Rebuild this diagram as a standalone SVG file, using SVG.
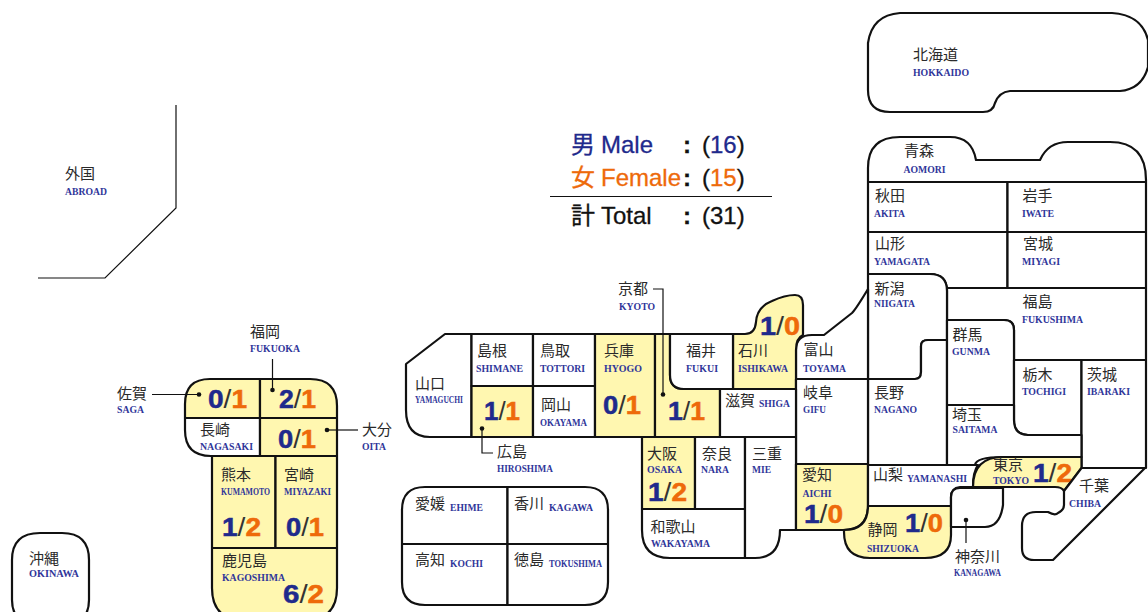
<svg xmlns="http://www.w3.org/2000/svg" width="1148" height="612" viewBox="0 0 1148 612">
<style>
.r{fill:#fff;stroke:#111;stroke-width:2.2;stroke-linejoin:round}
.y{fill:#fff7b0;stroke:#111;stroke-width:2.2;stroke-linejoin:round}
.j{font-family:"Noto Sans CJK JP","Noto Sans",sans-serif;font-size:15px;fill:#2a2a2a;transform:translateY(-0.7px)}
.e{font-family:"Liberation Serif",serif;font-size:11px;font-weight:bold;fill:#30369a}
.c{font-family:"Liberation Sans",sans-serif;font-size:25px;font-weight:bold}
.m{fill:#1f2a8c}.f{fill:#ee6a0a}.s{font-weight:normal;fill:#333}
.c .m{stroke:#1f2a8c;stroke-width:.5}.c .f{stroke:#ee6a0a;stroke-width:.5}
.t{font-family:"Liberation Sans","Noto Sans CJK JP",sans-serif;font-size:24px;fill:#111;stroke:#111;stroke-width:.3}
.t .m{stroke:#1f2a8c}.t .f{stroke:#ee6a0a}
.k{font-weight:bold}
.l{fill:none;stroke:#111;stroke-width:1.2}
.d{fill:#111}
</style>
<g id="abroad"><path class="l" d="M176,105V208L105,278H38"/><text class="j" x="65" y="180">外国</text><text class="e" x="65" y="195" textLength="42" lengthAdjust="spacingAndGlyphs">ABROAD</text></g>
<g id="hokkaido"><path class="r" d="M900,13H1112Q1142,15 1148,40V67Q1142,89 1120,91H1010Q999,92 995,103Q993,112 983,112H890Q868,112 868,90V43Q872,15 900,13Z"/><text class="j" x="913" y="61">北海道</text><text class="e" x="913" y="76" textLength="56" lengthAdjust="spacingAndGlyphs">HOKKAIDO</text></g>
<g id="aomori"><path class="r" d="M868,182V168Q868,137 900,137H950Q972,137 976,160H1040Q1048,142 1068,142H1110Q1146,142 1146,180V182Z"/><text class="j" x="904" y="157">青森</text><text class="e" x="903.5" y="173" textLength="42" lengthAdjust="spacingAndGlyphs">AOMORI</text></g>
<g id="akita"><rect class="r" x="868" y="182" width="139.500" height="50"/><text class="j" x="875" y="202">秋田</text><text class="e" x="874" y="217" textLength="31" lengthAdjust="spacingAndGlyphs">AKITA</text></g>
<g id="iwate"><rect class="r" x="1007.500" y="182" width="138.500" height="50"/><text class="j" x="1022.500" y="202">岩手</text><text class="e" x="1022" y="217" textLength="32" lengthAdjust="spacingAndGlyphs">IWATE</text></g>
<g id="yamagata"><path class="r" d="M868,232H1007.500V288H947V291Q947,274 930,274H868Z"/><text class="j" x="875" y="250">山形</text><text class="e" x="874" y="265" textLength="56" lengthAdjust="spacingAndGlyphs">YAMAGATA</text></g>
<g id="miyagi"><rect class="r" x="1007.500" y="232" width="138.500" height="56"/><text class="j" x="1023" y="250">宮城</text><text class="e" x="1022" y="265" textLength="38" lengthAdjust="spacingAndGlyphs">MIYAGI</text></g>
<g id="fukushima"><path class="r" d="M947,288H1146V360H1014V330Q1014,320 1004,320H947Z"/><text class="j" x="1022.500" y="308">福島</text><text class="e" x="1022" y="323" textLength="61" lengthAdjust="spacingAndGlyphs">FUKUSHIMA</text></g>
<g id="niigata"><path class="r" d="M868,274H930Q947,274 947,291V340H928Q921,340 921,346V372Q921,379 915,379H868Z"/><text class="j" x="874.500" y="295">新潟</text><text class="e" x="874" y="307" textLength="41" lengthAdjust="spacingAndGlyphs">NIIGATA</text></g>
<g id="nagano"><path class="r" d="M868,379H915Q921,379 921,372V346Q921,340 928,340H947V465H868Z"/><text class="j" x="874" y="399">長野</text><text class="e" x="874" y="413" textLength="43" lengthAdjust="spacingAndGlyphs">NAGANO</text></g>
<g id="gunma"><path class="r" d="M947,320H1004Q1014,320 1014,330V405H947Z"/><text class="j" x="952.500" y="341">群馬</text><text class="e" x="952" y="355" textLength="38" lengthAdjust="spacingAndGlyphs">GUNMA</text></g>
<g id="tochigi"><path class="r" d="M1014,360H1081.500V435H1028Q1014,435 1014,420Z"/><text class="j" x="1022.500" y="381">栃木</text><text class="e" x="1022" y="395" textLength="44" lengthAdjust="spacingAndGlyphs">TOCHIGI</text></g>
<g id="ibaraki"><rect class="r" x="1081.500" y="360" width="64.500" height="108"/><text class="j" x="1087" y="381">茨城</text><text class="e" x="1087" y="395" textLength="43" lengthAdjust="spacingAndGlyphs">IBARAKI</text></g>
<g id="saitama"><path class="r" d="M947,405H1014V420Q1014,435 1028,435H1081.500V457H1003Q976,457 975,465H947Z"/><text class="j" x="952" y="421">埼玉</text><text class="e" x="952.500" y="433" textLength="45" lengthAdjust="spacingAndGlyphs">SAITAMA</text></g>
<g id="toyama"><path class="r" d="M796,350Q796,335 812,335H824L852,313Q856,309 868,289V379H796Z"/><text class="j" x="803.500" y="356">富山</text><text class="e" x="803" y="372" textLength="43" lengthAdjust="spacingAndGlyphs">TOYAMA</text></g>
<g id="ishikawa"><path class="y" d="M733,334H745Q755,334 756,322Q757,307 772,301Q785,295 795,295Q803,295 803,305V335Q796,338 796,350V389H733Z"/><text class="j" x="738" y="357">石川</text><text class="e" x="738" y="372" textLength="50" lengthAdjust="spacingAndGlyphs">ISHIKAWA</text><text class="c" x="760" y="335" textLength="40" lengthAdjust="spacingAndGlyphs"><tspan class="m">1</tspan><tspan class="s">/</tspan><tspan class="f">0</tspan></text></g>
<g id="gifu"><rect class="r" x="796" y="379" width="72" height="85"/><text class="j" x="803" y="399">岐阜</text><text class="e" x="803" y="413" textLength="23" lengthAdjust="spacingAndGlyphs">GIFU</text></g>
<g id="yamaguchi"><path class="r" d="M445,334H471.500V437H430Q406,437 406,410V364Z"/><text class="j" x="415" y="390">山口</text><text class="e" x="415" y="403" textLength="48" lengthAdjust="spacingAndGlyphs">YAMAGUCHI</text></g>
<g id="shimane"><rect class="r" x="471.500" y="334" width="61.500" height="52"/><text class="j" x="477" y="357">島根</text><text class="e" x="476" y="372" textLength="47" lengthAdjust="spacingAndGlyphs">SHIMANE</text></g>
<g id="hiroshima"><rect class="y" x="471.500" y="386" width="61.500" height="51"/><text class="c" x="484" y="420" textLength="36" lengthAdjust="spacingAndGlyphs"><tspan class="m">1</tspan><tspan class="s">/</tspan><tspan class="f">1</tspan></text><text class="j" x="497" y="458">広島</text><text class="e" x="497" y="472" textLength="56" lengthAdjust="spacingAndGlyphs">HIROSHIMA</text></g>
<g id="tottori"><rect class="r" x="533" y="334" width="62" height="52"/><text class="j" x="540" y="357">鳥取</text><text class="e" x="540" y="372" textLength="45" lengthAdjust="spacingAndGlyphs">TOTTORI</text></g>
<g id="okayama"><rect class="r" x="533" y="386" width="62" height="51"/><text class="j" x="541" y="411">岡山</text><text class="e" x="540" y="426" textLength="47" lengthAdjust="spacingAndGlyphs">OKAYAMA</text></g>
<g id="hyogo"><rect class="y" x="595" y="334" width="60" height="103"/><text class="j" x="604" y="357">兵庫</text><text class="e" x="604" y="372" textLength="38" lengthAdjust="spacingAndGlyphs">HYOGO</text><text class="c" x="603" y="414" textLength="38" lengthAdjust="spacingAndGlyphs"><tspan class="m">0</tspan><tspan class="s">/</tspan><tspan class="f">1</tspan></text></g>
<g id="kyoto"><path class="y" d="M655,334H670V375Q670,389 684,389H720V437H655Z"/><text class="c" x="668" y="420" textLength="37" lengthAdjust="spacingAndGlyphs"><tspan class="m">1</tspan><tspan class="s">/</tspan><tspan class="f">1</tspan></text><text class="j" x="618" y="295">京都</text><text class="e" x="619" y="310" textLength="36" lengthAdjust="spacingAndGlyphs">KYOTO</text></g>
<g id="fukui"><path class="r" d="M670,334H733V389H684Q670,389 670,375Z"/><text class="j" x="686" y="357">福井</text><text class="e" x="686" y="372" textLength="32" lengthAdjust="spacingAndGlyphs">FUKUI</text></g>
<g id="shiga"><rect class="r" x="720" y="389" width="76" height="48"/><text class="j" x="725" y="407">滋賀</text><text class="e" x="759" y="407" textLength="31" lengthAdjust="spacingAndGlyphs">SHIGA</text></g>
<g id="osaka"><rect class="y" x="642" y="437" width="53" height="72"/><text class="j" x="647" y="460">大阪</text><text class="e" x="647" y="473" textLength="35" lengthAdjust="spacingAndGlyphs">OSAKA</text><text class="c" x="648" y="501" textLength="39" lengthAdjust="spacingAndGlyphs"><tspan class="m">1</tspan><tspan class="s">/</tspan><tspan class="f">2</tspan></text></g>
<g id="nara"><rect class="r" x="695" y="437" width="50" height="72"/><text class="j" x="702" y="460">奈良</text><text class="e" x="701" y="473" textLength="28" lengthAdjust="spacingAndGlyphs">NARA</text></g>
<g id="wakayama"><path class="r" d="M642,509H745V558H670Q642,558 642,530Z"/><text class="j" x="650.500" y="533">和歌山</text><text class="e" x="651" y="547" textLength="59" lengthAdjust="spacingAndGlyphs">WAKAYAMA</text></g>
<g id="mie"><path class="r" d="M745,437H796V530H780Q780,558 755,558H745Z"/><text class="j" x="752" y="460">三重</text><text class="e" x="752" y="473" textLength="19" lengthAdjust="spacingAndGlyphs">MIE</text></g>
<g id="aichi"><path class="y" d="M796,464H868V505Q868,530 843,530H796Z"/><text class="j" x="802" y="481">愛知</text><text class="e" x="802.500" y="497" textLength="29" lengthAdjust="spacingAndGlyphs">AICHI</text><text class="c" x="804" y="523" textLength="39" lengthAdjust="spacingAndGlyphs"><tspan class="m">1</tspan><tspan class="s">/</tspan><tspan class="f">0</tspan></text></g>
<g id="yamanashi"><path class="r" d="M868,465H978Q973,472 973,487H960Q951,488 951,497V506H868Z"/><text class="j" x="873" y="481">山梨</text><text class="e" x="907" y="482" textLength="60" lengthAdjust="spacingAndGlyphs">YAMANASHI</text></g>
<g id="shizuoka"><path class="y" d="M868,506H951V535Q951,558 925,558H870Q844,558 844,532V530Q868,530 868,506Z"/><text class="j" x="867.500" y="536">静岡</text><text class="e" x="867" y="552" textLength="52" lengthAdjust="spacingAndGlyphs">SHIZUOKA</text><text class="c" x="905" y="532" textLength="38" lengthAdjust="spacingAndGlyphs"><tspan class="m">1</tspan><tspan class="s">/</tspan><tspan class="f">0</tspan></text></g>
<g id="kanagawa"><path class="r" d="M951,527V497Q951,488 960,488H1003V505Q1000,527 985,527Z"/><text class="j" x="955" y="563">神奈川</text><text class="e" x="954" y="576" textLength="47" lengthAdjust="spacingAndGlyphs">KANAGAWA</text></g>
<g id="tokyo"><path class="y" d="M973,487Q973,457 1003,457H1081.500V468L1064,491Q1062,487 1055,487Z"/><text class="j" x="993" y="471">東京</text><text class="e" x="993" y="484" textLength="36" lengthAdjust="spacingAndGlyphs">TOKYO</text><text class="c" x="1033" y="482" textLength="39" lengthAdjust="spacingAndGlyphs"><tspan class="m">1</tspan><tspan class="s">/</tspan><tspan class="f">2</tspan></text></g>
<g id="chiba"><path class="r" d="M1081.500,468H1145L1053,560H1034Q1022,560 1022,548V526Q1022,512 1036,512H1048Q1055,516 1058,513Q1064,510 1064,505V491Z"/><text class="j" x="1079" y="492">千葉</text><text class="e" x="1069" y="507" textLength="32" lengthAdjust="spacingAndGlyphs">CHIBA</text></g>
<g id="ehime"><path class="r" d="M402,544V510Q402,487 425,487H507.500V544Z"/><text class="j" x="415" y="510">愛媛</text><text class="e" x="450" y="511" textLength="33" lengthAdjust="spacingAndGlyphs">EHIME</text></g>
<g id="kagawa"><path class="r" d="M507.500,487H585Q608,487 608,510V544H507.500Z"/><text class="j" x="514" y="510">香川</text><text class="e" x="549" y="511" textLength="44" lengthAdjust="spacingAndGlyphs">KAGAWA</text></g>
<g id="kochi"><path class="r" d="M402,544H507.500V605H425Q402,605 402,582Z"/><text class="j" x="415" y="566">高知</text><text class="e" x="450" y="567" textLength="33" lengthAdjust="spacingAndGlyphs">KOCHI</text></g>
<g id="tokushima"><path class="r" d="M507.500,544H608V582Q608,605 585,605H507.500Z"/><text class="j" x="514" y="566">徳島</text><text class="e" x="549" y="567" textLength="53" lengthAdjust="spacingAndGlyphs">TOKUSHIMA</text></g>
<g id="saga"><path class="y" d="M260,379H210Q185,379 185,404V418H260Z"/><text class="c" x="208" y="408" textLength="39" lengthAdjust="spacingAndGlyphs"><tspan class="m">0</tspan><tspan class="s">/</tspan><tspan class="f">1</tspan></text><text class="j" x="117" y="400">佐賀</text><text class="e" x="117" y="413" textLength="27" lengthAdjust="spacingAndGlyphs">SAGA</text></g>
<g id="fukuoka"><path class="y" d="M260,379H310Q337,379 337,406V418H260Z"/><text class="c" x="279" y="408" textLength="37" lengthAdjust="spacingAndGlyphs"><tspan class="m">2</tspan><tspan class="s">/</tspan><tspan class="f">1</tspan></text><text class="j" x="250" y="338">福岡</text><text class="e" x="250" y="352" textLength="50" lengthAdjust="spacingAndGlyphs">FUKUOKA</text></g>
<g id="nagasaki"><path class="r" d="M185,418H260V456H211Q185,456 185,430Z"/><text class="j" x="200" y="436">長崎</text><text class="e" x="200" y="450" textLength="53" lengthAdjust="spacingAndGlyphs">NAGASAKI</text></g>
<g id="oita"><rect class="y" x="260" y="418" width="77" height="38"/><text class="c" x="278" y="448" textLength="38" lengthAdjust="spacingAndGlyphs"><tspan class="m">0</tspan><tspan class="s">/</tspan><tspan class="f">1</tspan></text><text class="j" x="362" y="436">大分</text><text class="e" x="362" y="450" textLength="24" lengthAdjust="spacingAndGlyphs">OITA</text></g>
<g id="kumamoto"><rect class="y" x="212" y="456" width="63.500" height="92"/><text class="j" x="221" y="481">熊本</text><text class="e" x="221" y="495" textLength="49" lengthAdjust="spacingAndGlyphs">KUMAMOTO</text><text class="c" x="222" y="536" textLength="39" lengthAdjust="spacingAndGlyphs"><tspan class="m">1</tspan><tspan class="s">/</tspan><tspan class="f">2</tspan></text></g>
<g id="miyazaki"><rect class="y" x="275.500" y="456" width="61.500" height="92"/><text class="j" x="284" y="481">宮崎</text><text class="e" x="284" y="495" textLength="47" lengthAdjust="spacingAndGlyphs">MIYAZAKI</text><text class="c" x="286" y="536" textLength="38" lengthAdjust="spacingAndGlyphs"><tspan class="m">0</tspan><tspan class="s">/</tspan><tspan class="f">1</tspan></text></g>
<g id="kagoshima"><path class="y" d="M212,548H337V588Q337,620 305,620H244Q212,620 212,588Z"/><text class="j" x="222" y="567">鹿児島</text><text class="e" x="222" y="581" textLength="63" lengthAdjust="spacingAndGlyphs">KAGOSHIMA</text><text class="c" x="283" y="603" textLength="41" lengthAdjust="spacingAndGlyphs"><tspan class="m">6</tspan><tspan class="s">/</tspan><tspan class="f">2</tspan></text></g>
<g id="okinawa"><path class="r" d="M12,560Q12,533 40,533H62Q89,533 89,560V600Q89,625 62,625H40Q12,625 12,600Z"/><text class="j" x="29" y="565">沖縄</text><text class="e" x="29" y="577" textLength="50" lengthAdjust="spacingAndGlyphs">OKINAWA</text></g>
<g id="connectors">
<path class="l" d="M152,394.500H199"/><circle class="d" cx="199" cy="394.500" r="2.300"/>
<path class="l" d="M272.500,359V390"/><circle class="d" cx="272.500" cy="390" r="2.300"/>
<path class="l" d="M358,430H327"/><circle class="d" cx="327" cy="430" r="2.300"/>
<path class="l" d="M653,289H663V394.500"/><circle class="d" cx="663" cy="394.500" r="2.300"/>
<path class="l" d="M482,428.500V453H493"/><circle class="d" cx="482" cy="428.500" r="2.300"/>
<path class="l" d="M966,520V543"/><circle class="d" cx="966" cy="520" r="2.300"/>
</g>
<g id="legend">
<text class="t" x="571" y="153"><tspan class="m">男</tspan></text><text class="t" x="601" y="153"><tspan class="m">Male</tspan></text><text class="t k" x="683" y="153">:</text><text class="t" x="702" y="153">(<tspan class="m">16</tspan>)</text>
<text class="t" x="571" y="186"><tspan class="f">女</tspan></text><text class="t" x="601" y="186"><tspan class="f">Female</tspan></text><text class="t k" x="683" y="186">:</text><text class="t" x="702" y="186">(<tspan class="f">15</tspan>)</text>
<path d="M550,196.500H772" stroke="#111" stroke-width="1.200"/>
<text class="t" x="571" y="224">計</text><text class="t" x="601" y="224">Total</text><text class="t k" x="683" y="224">:</text><text class="t" x="702" y="224">(31)</text>
</g>
</svg>
